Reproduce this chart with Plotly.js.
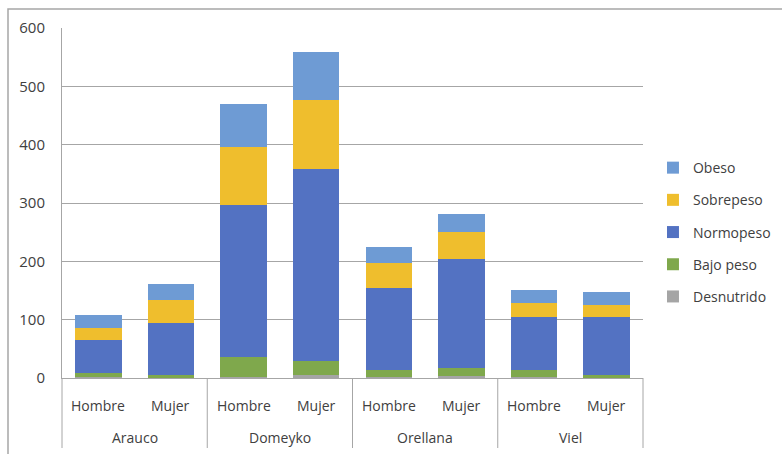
<!DOCTYPE html>
<html>
<head>
<meta charset="utf-8">
<script src="https://cdn.plot.ly/plotly-3.0.1.min.js"></script>
<style>html,body{margin:0;padding:0;background:#fff;}#chart{width:782px;height:454px;}</style>
</head>
<body>
<div id="chart"></div>
<script>
const groups = ["Arauco","Arauco","Domeyko","Domeyko","Orellana","Orellana","Viel","Viel"];
const sexes = ["Hombre","Mujer","Hombre","Mujer","Hombre","Mujer","Hombre","Mujer"];
const desnutrido = [1, 0, 2, 6, 1, 3, 1, 0];
const bajoPeso = [7, 5, 34, 24, 13, 15, 13, 6];
const normopeso = [57, 90, 261, 329, 140, 186, 90, 98];
const sobrepeso = [21, 38, 99, 117, 44, 46, 25, 22];
const obeso = [22, 28, 74, 83, 27, 31, 22, 22];
const groupNames = ["Arauco","Domeyko","Orellana","Viel"];

const seriesNames = ["Desnutrido","Bajo peso","Normopeso","Sobrepeso","Obeso"];
const seriesValues = [desnutrido, bajoPeso, normopeso, sobrepeso, obeso];
const seriesColors = ["#a5a5a5","#7fa84c","#5372c2","#efbe2d","#6e9bd4"];

const traces = seriesNames.map((n,i)=>({
  type:'bar', name:n, x:[groups, sexes], y:seriesValues[i],
  marker:{color:seriesColors[i], line:{width:0}},
  legendgroup:n, legendrank:(seriesNames.length - i)
}));

const PW = 581, PH = 350;
const lineCol = '#a6a6a6';
const txtCol = '#404040';
const annotations = [];
sexes.forEach((s,i)=>annotations.push({xref:'paper', yref:'paper', x:(i+0.5)/sexes.length, y:-27/PH,
  text:s, showarrow:false, xanchor:'center', yanchor:'middle', font:{size:14, color:txtCol}}));
groupNames.forEach((g,i)=>annotations.push({xref:'paper', yref:'paper', x:(i+0.5)/groupNames.length, y:-59/PH,
  text:g, showarrow:false, xanchor:'center', yanchor:'middle', font:{size:14, color:txtCol}}));

const shapes = [{type:'rect', xref:'paper', yref:'paper', x0:-54/PW, x1:1.4, y0:-0.4, y1:1+19/PH,
  line:{color:lineCol, width:1.5}, fillcolor:'rgba(0,0,0,0)', layer:'below'}];
for (let k=0;k<=groupNames.length;k++){
  shapes.push({type:'line', xref:'paper', yref:'paper', x0:k/groupNames.length, x1:k/groupNames.length,
    y0:0, y1:-70/PH, line:{color:lineCol, width:1}});
}

const layout = {
  width:782, height:454,
  margin:{l:62, r:139, t:28, b:76},
  barmode:'stack', bargap:0.36,
  font:{family:'"Open Sans", Lato, sans-serif', size:14, color:txtCol},
  plot_bgcolor:'#fff', paper_bgcolor:'#fff',
  showlegend:true,
  legend:{xref:'container', x:0.835, y:0.417, xanchor:'left', yanchor:'middle', traceorder:'grouped', tracegroupgap:11,
    font:{size:14, color:txtCol}, itemwidth:30},
  xaxis:{type:'multicategory', showline:true, linecolor:lineCol, linewidth:1,
    showdividers:false, showticklabels:false, ticks:''},
  yaxis:{range:[0,600], dtick:100, showgrid:true, gridcolor:lineCol, gridwidth:1,
    showline:true, linecolor:lineCol, zeroline:false, ticks:'', ticklabelstandoff:13, tickfont:{size:15, color:txtCol}},
  annotations, shapes
};
Plotly.newPlot('chart', traces, layout, {displayModeBar:false});
</script>
</body>
</html>
